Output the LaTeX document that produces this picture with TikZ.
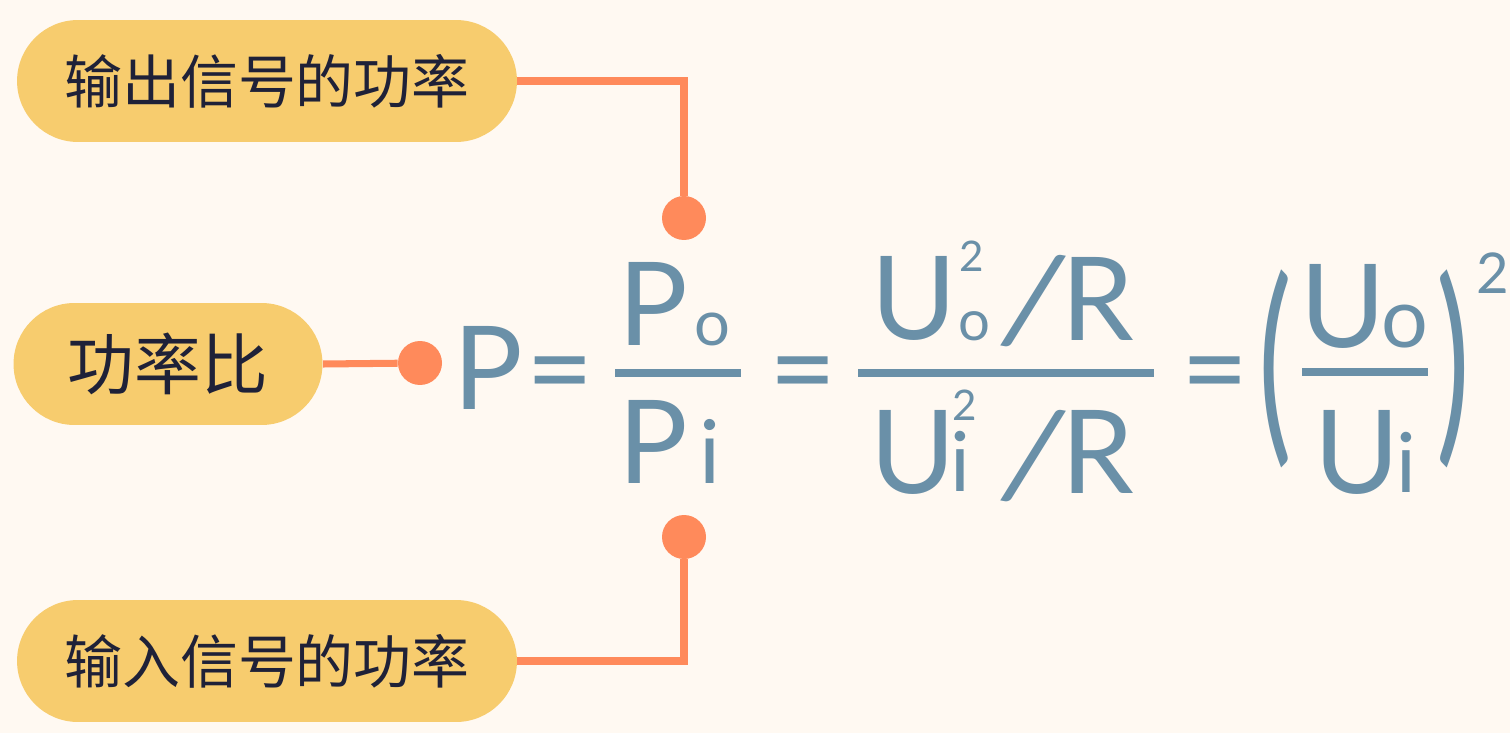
\documentclass[tikz,border=0pt]{standalone}
\usepackage{fontspec}
\setmainfont{Lato}
\newfontfamily\cjk{Noto Sans CJK SC}
\usetikzlibrary{shapes.misc}
\definecolor{prcream}{HTML}{FFF9F2}
\definecolor{pryellow}{HTML}{F7CC6E}
\definecolor{prink}{HTML}{1F2138}
\definecolor{prorange}{HTML}{FF8A5B}
\definecolor{prblue}{HTML}{6A90A8}
\tikzset{
  pill/.style   ={rounded rectangle, fill=pryellow, minimum height=2.44cm,
                  inner sep=0pt, text=prink},
  knob/.style   ={circle, fill=prorange, minimum size=0.88cm, inner sep=0pt},
  wire/.style   ={draw=prorange, line width=4pt},
  sym/.style    ={text=prblue, inner sep=0pt, anchor=base west},
  big/.style    ={sym, font=\fontsize{66}{66}\selectfont},
  small/.style  ={sym, font=\fontsize{#1}{#1}\selectfont},
  fracbar/.style={draw=prblue, line width=4pt},
}
\newcommand{\wideslash}{\scalebox{1.1}{\rotatebox[origin=c]{-10}{/}}}
\newcommand{\tallpar}[1]{\scalebox{1}[1.7]{#1}}

\begin{document}
\begin{tikzpicture}[x=0.02cm,y=-0.02cm]
  \fill[prcream] (0,0) rectangle (1510,733);
  % labels and their pins
  \node[pill, minimum width=10cm, font=\cjk\fontsize{33}{33}\selectfont] (outpw) at (267,81) {输出信号的功率};
  \node[pill, minimum width=6.18cm, font=\cjk\fontsize{38}{38}\selectfont] (ratio) at (168,364) {功率比};
  \node[pill, minimum width=10cm, font=\cjk\fontsize{33}{33}\selectfont] (inpw) at (267,661) {输入信号的功率};
  \node[knob] (dotout) at (684,218) {};
  \node[knob] (dotratio) at (420,363) {};
  \node[knob] (dotin) at (684,537) {};
  \draw[wire] (outpw.east) -| (dotout);
  \draw[wire] (ratio.east) -- (dotratio);
  \draw[wire] (inpw.east) -| (dotin);
  % P = Po/Pi
  \node[big] (pbig) at (453,409) {P};
  \node[big, anchor=base] (eqa) at (560,409) {=};
  \node[big] (pnum) at (618,345) {P};
  \node[small=36] (onum) at (694,345) {o};
  \node[big] (pden) at (618,483) {P};
  \node[small=50] (iden) at (699,483) {i};
  \draw[fracbar] (615,373) -- (741,373);
  % = Uo^2/R / Ui^2/R
  \node[big, anchor=base] (eqb) at (803,409) {=};
  \node[big] (unum) at (871,339) {U};
  \node[small=32] (ounum) at (958,340) {o};
  \node[small=24] (sqnum) at (959,271) {2};
  \node[big] (slnum) at (996,345) {\wideslash};
  \node[big] (rnum) at (1061,340) {R};
  \node[big] (uden) at (870,493) {U};
  \node[small=24] (sqden) at (952,420) {2};
  \node[small=47] (iuden) at (950,491) {i};
  \node[big] (slden) at (996,500) {\wideslash};
  \node[big] (rden) at (1061,493) {R};
  \draw[fracbar] (858,373) -- (1154,373);
  % = (Uo/Ui)^2
  \node[big, anchor=base] (eqc) at (1215,409) {=};
  \node[sym, font=\fontsize{72}{72}\selectfont] (lpar) at (1258,436) {\tallpar{(}};
  \node[big] (uo) at (1300,347) {U};
  \node[small=47] (ouo) at (1381,347) {o};
  \node[big] (ui) at (1314,493) {U};
  \node[small=47] (iui) at (1396,492) {i};
  \draw[fracbar] (1302,372) -- (1428,372);
  \node[sym, font=\fontsize{72}{72}\selectfont] (rpar) at (1436,436) {\tallpar{)}};
  \node[small=32] (sqout) at (1476,293) {2};
\end{tikzpicture}
\end{document}
